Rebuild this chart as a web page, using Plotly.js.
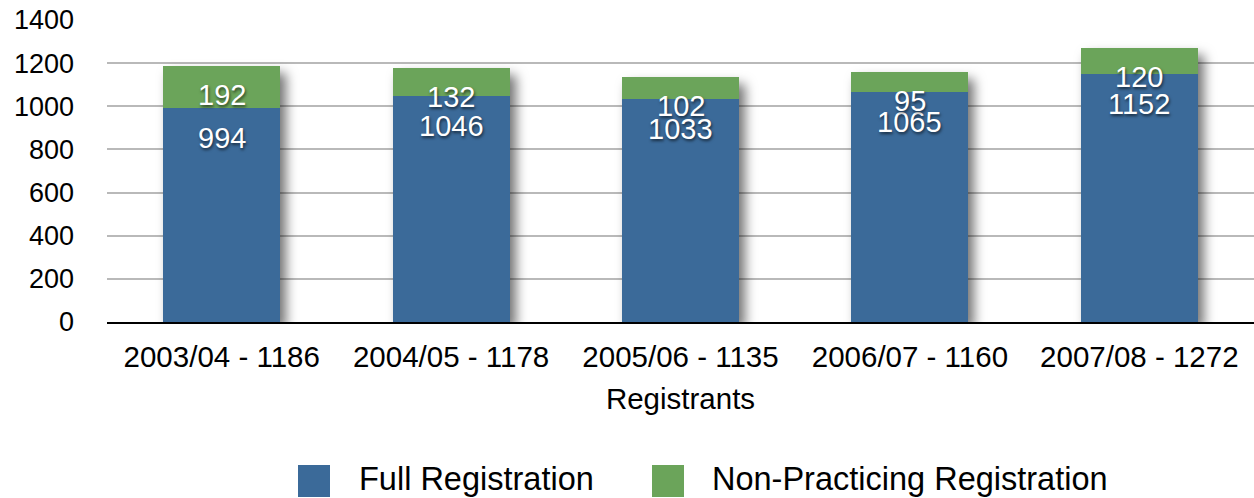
<!DOCTYPE html>
<html>
<head>
<meta charset="utf-8">
<script src="https://cdn.plot.ly/plotly-3.0.1.min.js"></script>
<style>
  html, body { margin: 0; padding: 0; background: #fff; }
  #chart { width: 1254px; height: 498px; }
  .barlayer { filter: drop-shadow(6px 7px 6px rgba(0,0,0,0.55)); }
</style>
</head>
<body>
<div id="chart"></div>
<script>
const categories = ["2003/04 - 1186", "2004/05 - 1178", "2005/06 - 1135", "2006/07 - 1160", "2007/08 - 1272"];
const fullRegistration = [994, 1046, 1033, 1065, 1152];
const nonPracticing = [192, 132, 102, 95, 120];
const seriesNames = ["Full Registration", "Non-Practicing Registration"];
const seriesColors = ["#3B6A99", "#6BA45A"];
const yTicks = [0, 200, 400, 600, 800, 1000, 1200, 1400];

const FONT = "Liberation Sans, Arial, Helvetica, sans-serif";
const labelShadow = "1px 2px 3px rgba(0,0,0,0.6)";

// plot-area geometry (pixels) used to place the legend in paper units
const W = 1254, H = 498, ML = 107, MR = 0, MT = 20, MB = 176;
const PW = W - ML - MR, PH = H - MT - MB;
const px = v => (v - ML) / PW;
const py = v => (H - MB - v) / PH;

const traces = [
  { type: "bar", x: categories, y: fullRegistration, name: seriesNames[0],
    marker: { color: seriesColors[0], line: { width: 0 } }, hoverinfo: "skip" },
  { type: "bar", x: categories, y: nonPracticing, name: seriesNames[1],
    marker: { color: seriesColors[1], line: { width: 0 } }, hoverinfo: "skip" }
];

const annotations = [];
categories.forEach((c, i) => {
  annotations.push({ x: c, y: fullRegistration[i], text: String(fullRegistration[i]),
    showarrow: false, yshift: -30, yanchor: "middle",
    font: { family: FONT, size: 29, color: "#fff", shadow: labelShadow } });
  annotations.push({ x: c, y: fullRegistration[i] + nonPracticing[i], text: String(nonPracticing[i]),
    showarrow: false, yshift: -29, yanchor: "middle",
    font: { family: FONT, size: 29, color: "#fff", shadow: labelShadow } });
});

// custom legend (large square swatches like the reference)
const legendItems = [
  { sx0: 298, sx1: 330, tx: 357 },
  { sx0: 652, sx1: 684, tx: 710 }
];
const shapes = [];
legendItems.forEach((it, k) => {
  shapes.push({ type: "rect", xref: "paper", yref: "paper",
    x0: px(it.sx0), x1: px(it.sx1), y0: py(497), y1: py(465),
    fillcolor: seriesColors[k], line: { width: 0 } });
  annotations.push({ xref: "paper", yref: "paper", x: px(it.tx), y: py(479),
    xanchor: "left", yanchor: "middle", showarrow: false, text: seriesNames[k],
    font: { family: FONT, size: 32.5, color: "#000" } });
});

const layout = {
  width: W, height: H,
  margin: { l: ML, r: MR, t: MT, b: MB, autoexpand: false },
  paper_bgcolor: "#fff", plot_bgcolor: "#fff",
  barmode: "stack",
  bargap: 0.49,
  font: { family: FONT, size: 27, color: "#000" },
  xaxis: {
    type: "category",
    showgrid: false,
    showline: true, linecolor: "#000", linewidth: 2,
    ticks: "", ticklabelstandoff: 8,
    tickfont: { family: FONT, size: 29.5, color: "#000" },
    title: { text: "Registrants", font: { family: FONT, size: 29.5, color: "#000" }, standoff: 16 }
  },
  yaxis: {
    range: [0, 1400],
    tickvals: yTicks,
    ticktext: yTicks.map(String),
    showgrid: true, gridcolor: "#b9b9b9", gridwidth: 2,
    zeroline: false, showline: false,
    ticks: "", ticklabelstandoff: 32,
    tickfont: { family: FONT, size: 27, color: "#000" }
  },
  showlegend: false,
  shapes: shapes,
  annotations: annotations
};

Plotly.newPlot("chart", traces, layout, { displayModeBar: false, staticPlot: true });
</script>
</body>
</html>
